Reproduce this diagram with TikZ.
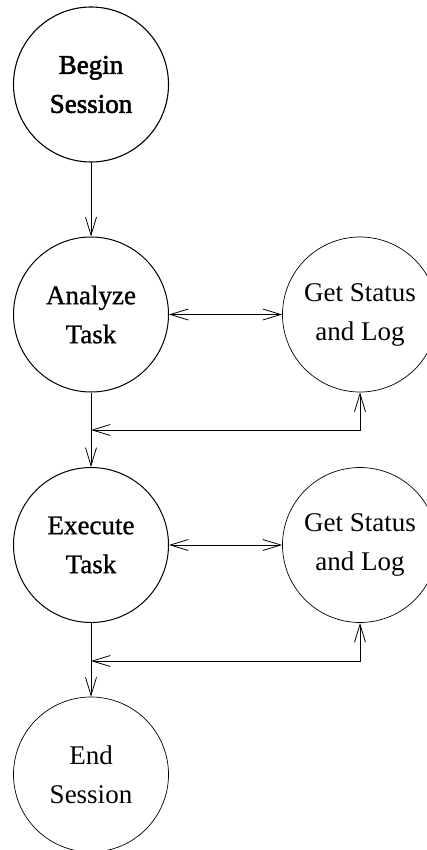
\documentclass[tikz,border=0pt]{standalone}
\usepackage{fontspec}
\setmainfont{Liberation Serif}
\newfontfamily\heavyfont{Liberation Serif}[BoldFont={Liberation Serif},BoldFeatures={FakeBold=2.2}]
\newfontfamily\midfont{Liberation Serif}[BoldFont={Liberation Serif},BoldFeatures={FakeBold=0.9}]
\usetikzlibrary{arrows.meta}
\begin{document}
\begin{tikzpicture}[x=1pt,y=-1pt,
  state/.style={circle,draw,line width=1pt,minimum size=155pt,inner sep=0pt,align=center,
    font=\fontsize{27}{39}\selectfont\midfont\bfseries},
  first/.style={state,line width=1.1pt,font=\fontsize{27}{39}\selectfont\heavyfont\bfseries},
  side/.style={state,line width=0.7pt,font=\fontsize{27}{39}\selectfont},
  conn/.style={line width=0.8pt,-{Straight Barb[length=18pt,width=11pt]}},
  dconn/.style={line width=0.8pt,{Straight Barb[length=18pt,width=11pt]}-{Straight Barb[length=18pt,width=11pt]}}]
\useasboundingbox (0,0) rectangle (427,850);
\node[first] (begin) at (91,84.5) {Begin\\Session};
\node[state] (analyze) at (91,314.5) {Analyze\\Task};
\node[side] (gs1) at (360,314.5) {Get Status\\and Log};
\node[state] (execute) at (91,545) {Execute\\Task};
\node[side] (gs2) at (360,545) {Get Status\\and Log};
\node[side] (end) at (91,774.5) {End\\Session};
\coordinate (j1) at (91,430);
\coordinate (j2) at (91,661);
\draw[conn] (begin) -- (analyze);
\draw[dconn] (analyze) -- (gs1);
\draw[dconn] (gs1.south) |- (j1);
\draw[conn] (analyze) -- (execute);
\draw[dconn] (execute) -- (gs2);
\draw[dconn] (gs2.south) |- (j2);
\draw[conn] (execute) -- (end);
\end{tikzpicture}
\end{document}
